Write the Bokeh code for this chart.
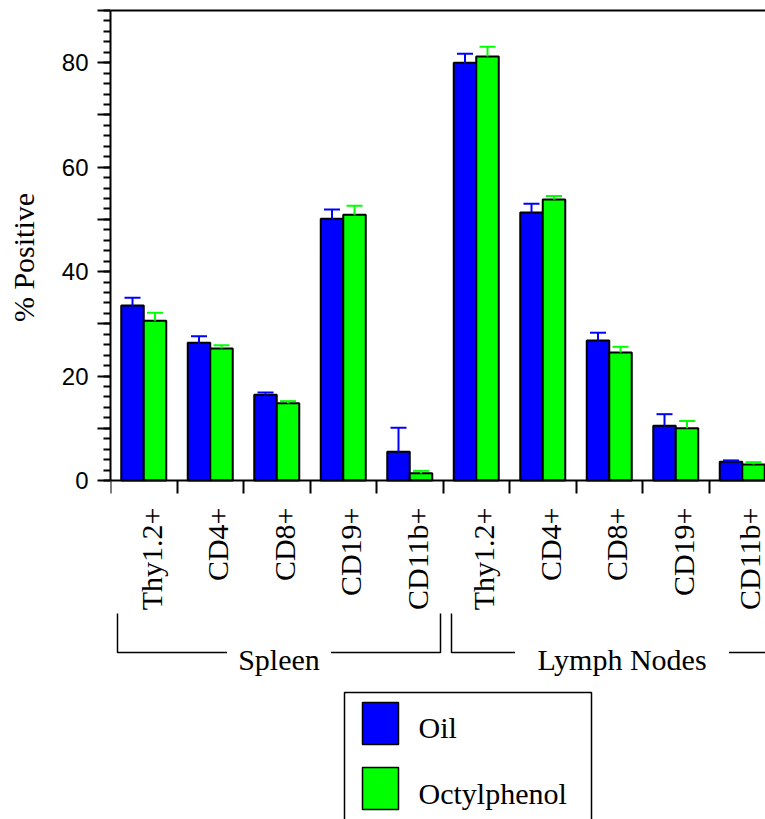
import math
from bokeh.plotting import figure
from bokeh.models import Range1d, FixedTicker, LinearAxis
from bokeh.core.properties import value
from bokeh.embed import file_html
from bokeh.resources import INLINE

# ---------------- data ----------------
tissues = ["Spleen", "Lymph Nodes"]
markers = ["Thy1.2+", "CD4+", "CD8+", "CD19+", "CD11b+"]
series_names = ["Oil", "Octylphenol"]
oil = [33.5, 26.4, 16.4, 50.1, 5.5, 80.0, 51.3, 26.8, 10.5, 3.6]
oil_err = [1.5, 1.2, 0.45, 1.8, 4.6, 1.7, 1.7, 1.5, 2.2, 0.25]
octyl = [30.6, 25.3, 14.8, 50.9, 1.4, 81.2, 53.8, 24.5, 10.0, 3.06]
octyl_err = [1.5, 0.6, 0.4, 1.7, 0.45, 1.85, 0.7, 1.1, 1.4, 0.45]
y_tick_labels = [0, 20, 40, 60, 80]
y_max = 90
y_title = "% Positive"

# ---------------- layout (canvas pixels) ----------------
W, H = 765, 819
AX_X = 110          # x of the value axis
AX_Y0 = 480         # y of value 0
AX_YTOP = 10        # y of value y_max
CAT_PX = 66.5       # width of one category
PPU_Y = (AX_Y0 - AX_YTOP) / y_max

def dx(px):
    return (px - AX_X) / CAT_PX

def dy(py):
    return (AX_Y0 - py) / PPU_Y

SERIF = value("Liberation Serif")
BLUE = "#0000FF"
GREEN = "#00FF00"

p = figure(width=W, height=H, output_backend="svg", toolbar_location=None,
           x_range=Range1d(0, dx(W)), y_range=Range1d(dy(H), dy(0)),
           min_border_left=AX_X, min_border_right=0, min_border_top=0,
           min_border_bottom=0)
p.grid.visible = False
p.outline_line_color = None
p.background_fill_color = "white"
p.border_fill_color = "white"

# ---------------- y axis ----------------
ya = p.yaxis[0]
ya.bounds = (0, y_max)
ya.ticker = FixedTicker(ticks=list(range(0, y_max + 1, 10)),
                        minor_ticks=list(range(0, y_max + 1, 2)))
ya.major_label_overrides = {t: "" for t in range(0, y_max + 1, 10) if t not in y_tick_labels}
ya.major_tick_in = 0
ya.major_tick_out = 13
ya.minor_tick_in = 0
ya.minor_tick_out = 7
ya.major_tick_line_width = 2
ya.minor_tick_line_width = 2
ya.axis_line_width = 2
ya.major_label_standoff = 9
ya.major_label_text_font = "Liberation Sans"
ya.major_label_text_font_size = "24px"
ya.major_label_text_color = "black"

# y title: a label-only axis so that it can sit beside the 0..90 part of the axis
title_pos = dy(257)
ta = LinearAxis(ticker=FixedTicker(ticks=[title_pos], minor_ticks=[]),
                major_label_overrides={title_pos: y_title},
                major_label_orientation="vertical",
                major_label_standoff=13,
                major_label_text_font="Liberation Serif",
                major_label_text_font_size="30px",
                major_label_text_color="black",
                axis_line_color=None, major_tick_line_color=None,
                minor_tick_line_color=None)
p.add_layout(ta, "left")

# ---------------- x axis (category boundaries) ----------------
n = len(tissues) * len(markers)
xa = p.xaxis[0]
xa.fixed_location = 0
xa.ticker = FixedTicker(ticks=list(range(n)), minor_ticks=[])
xa.major_label_text_color = None
xa.major_tick_in = 0
xa.major_tick_out = 13
xa.major_tick_line_width = 2
xa.minor_tick_line_color = None
xa.axis_line_width = 2

# top frame line
p.segment(x0=[0], y0=[y_max], x1=[n], y1=[y_max], line_color="black", line_width=2)

# ---------------- bars ----------------
BW = 22.5 / CAT_PX
centers = [i + 0.5 for i in range(n)]
xo = [c - BW / 2 for c in centers]
xg = [c + BW / 2 for c in centers]
CAP = 16 / CAT_PX

for xs, vals, errs, col in [(xo, oil, oil_err, BLUE), (xg, octyl, octyl_err, GREEN)]:
    p.vbar(x=xs, top=vals, bottom=0, width=BW, fill_color=col, line_color="black", line_width=2)
    tops = [v + e for v, e in zip(vals, errs)]
    p.segment(x0=xs, y0=vals, x1=xs, y1=tops, line_color=col, line_width=2)
    p.segment(x0=[x - CAP / 2 for x in xs], y0=tops, x1=[x + CAP / 2 for x in xs], y1=tops,
              line_color=col, line_width=2)

# ---------------- category labels ----------------
labels = [m for t in tissues for m in markers]
LBL_DX = 7.5 / CAT_PX
p.text(x=[c + LBL_DX for c in centers], y=[dy(507)] * n, text=labels, angle=math.pi / 2,
       text_align="right", text_baseline="alphabetic", text_font=SERIF,
       text_font_size="30px", text_color="black")

# ---------------- group brackets ----------------
br_left = [dx(117), dx(451)]
br_right = [dx(440), dx(792)]
half_gap = [52 / CAT_PX, 107 / CAT_PX]
br_top, br_bot = dy(613), dy(652)
mids = [(a + b) / 2 for a, b in zip(br_left, br_right)]
for a, b, m, g in zip(br_left, br_right, mids, half_gap):
    p.line(x=[a, a, m - g], y=[br_top, br_bot, br_bot], line_color="black", line_width=1.5)
    p.line(x=[m + g, b, b], y=[br_bot, br_bot, br_top], line_color="black", line_width=1.5)
p.text(x=mids, y=[dy(659)] * 2, text=tissues, text_align="center", text_baseline="alphabetic",
       text_font=SERIF, text_font_size="30px", text_color="black")

# ---------------- legend ----------------
p.quad(left=[dx(344)], right=[dx(591)], top=[dy(692)], bottom=[dy(900)],
       fill_color=None, line_color="black", line_width=1.5)
sw_top = [dy(702), dy(767)]
sw_bot = [dy(744), dy(809)]
p.quad(left=[dx(362)] * 2, right=[dx(398)] * 2, top=sw_top, bottom=sw_bot,
       fill_color=[BLUE, GREEN], line_color="black", line_width=1.5)
p.text(x=[dx(418)] * 2, y=[dy(727), dy(793)], text=series_names, text_align="left",
       text_baseline="alphabetic", text_font=SERIF, text_font_size="30px", text_color="black")

open("out.html", "w").write(file_html(p, INLINE))
